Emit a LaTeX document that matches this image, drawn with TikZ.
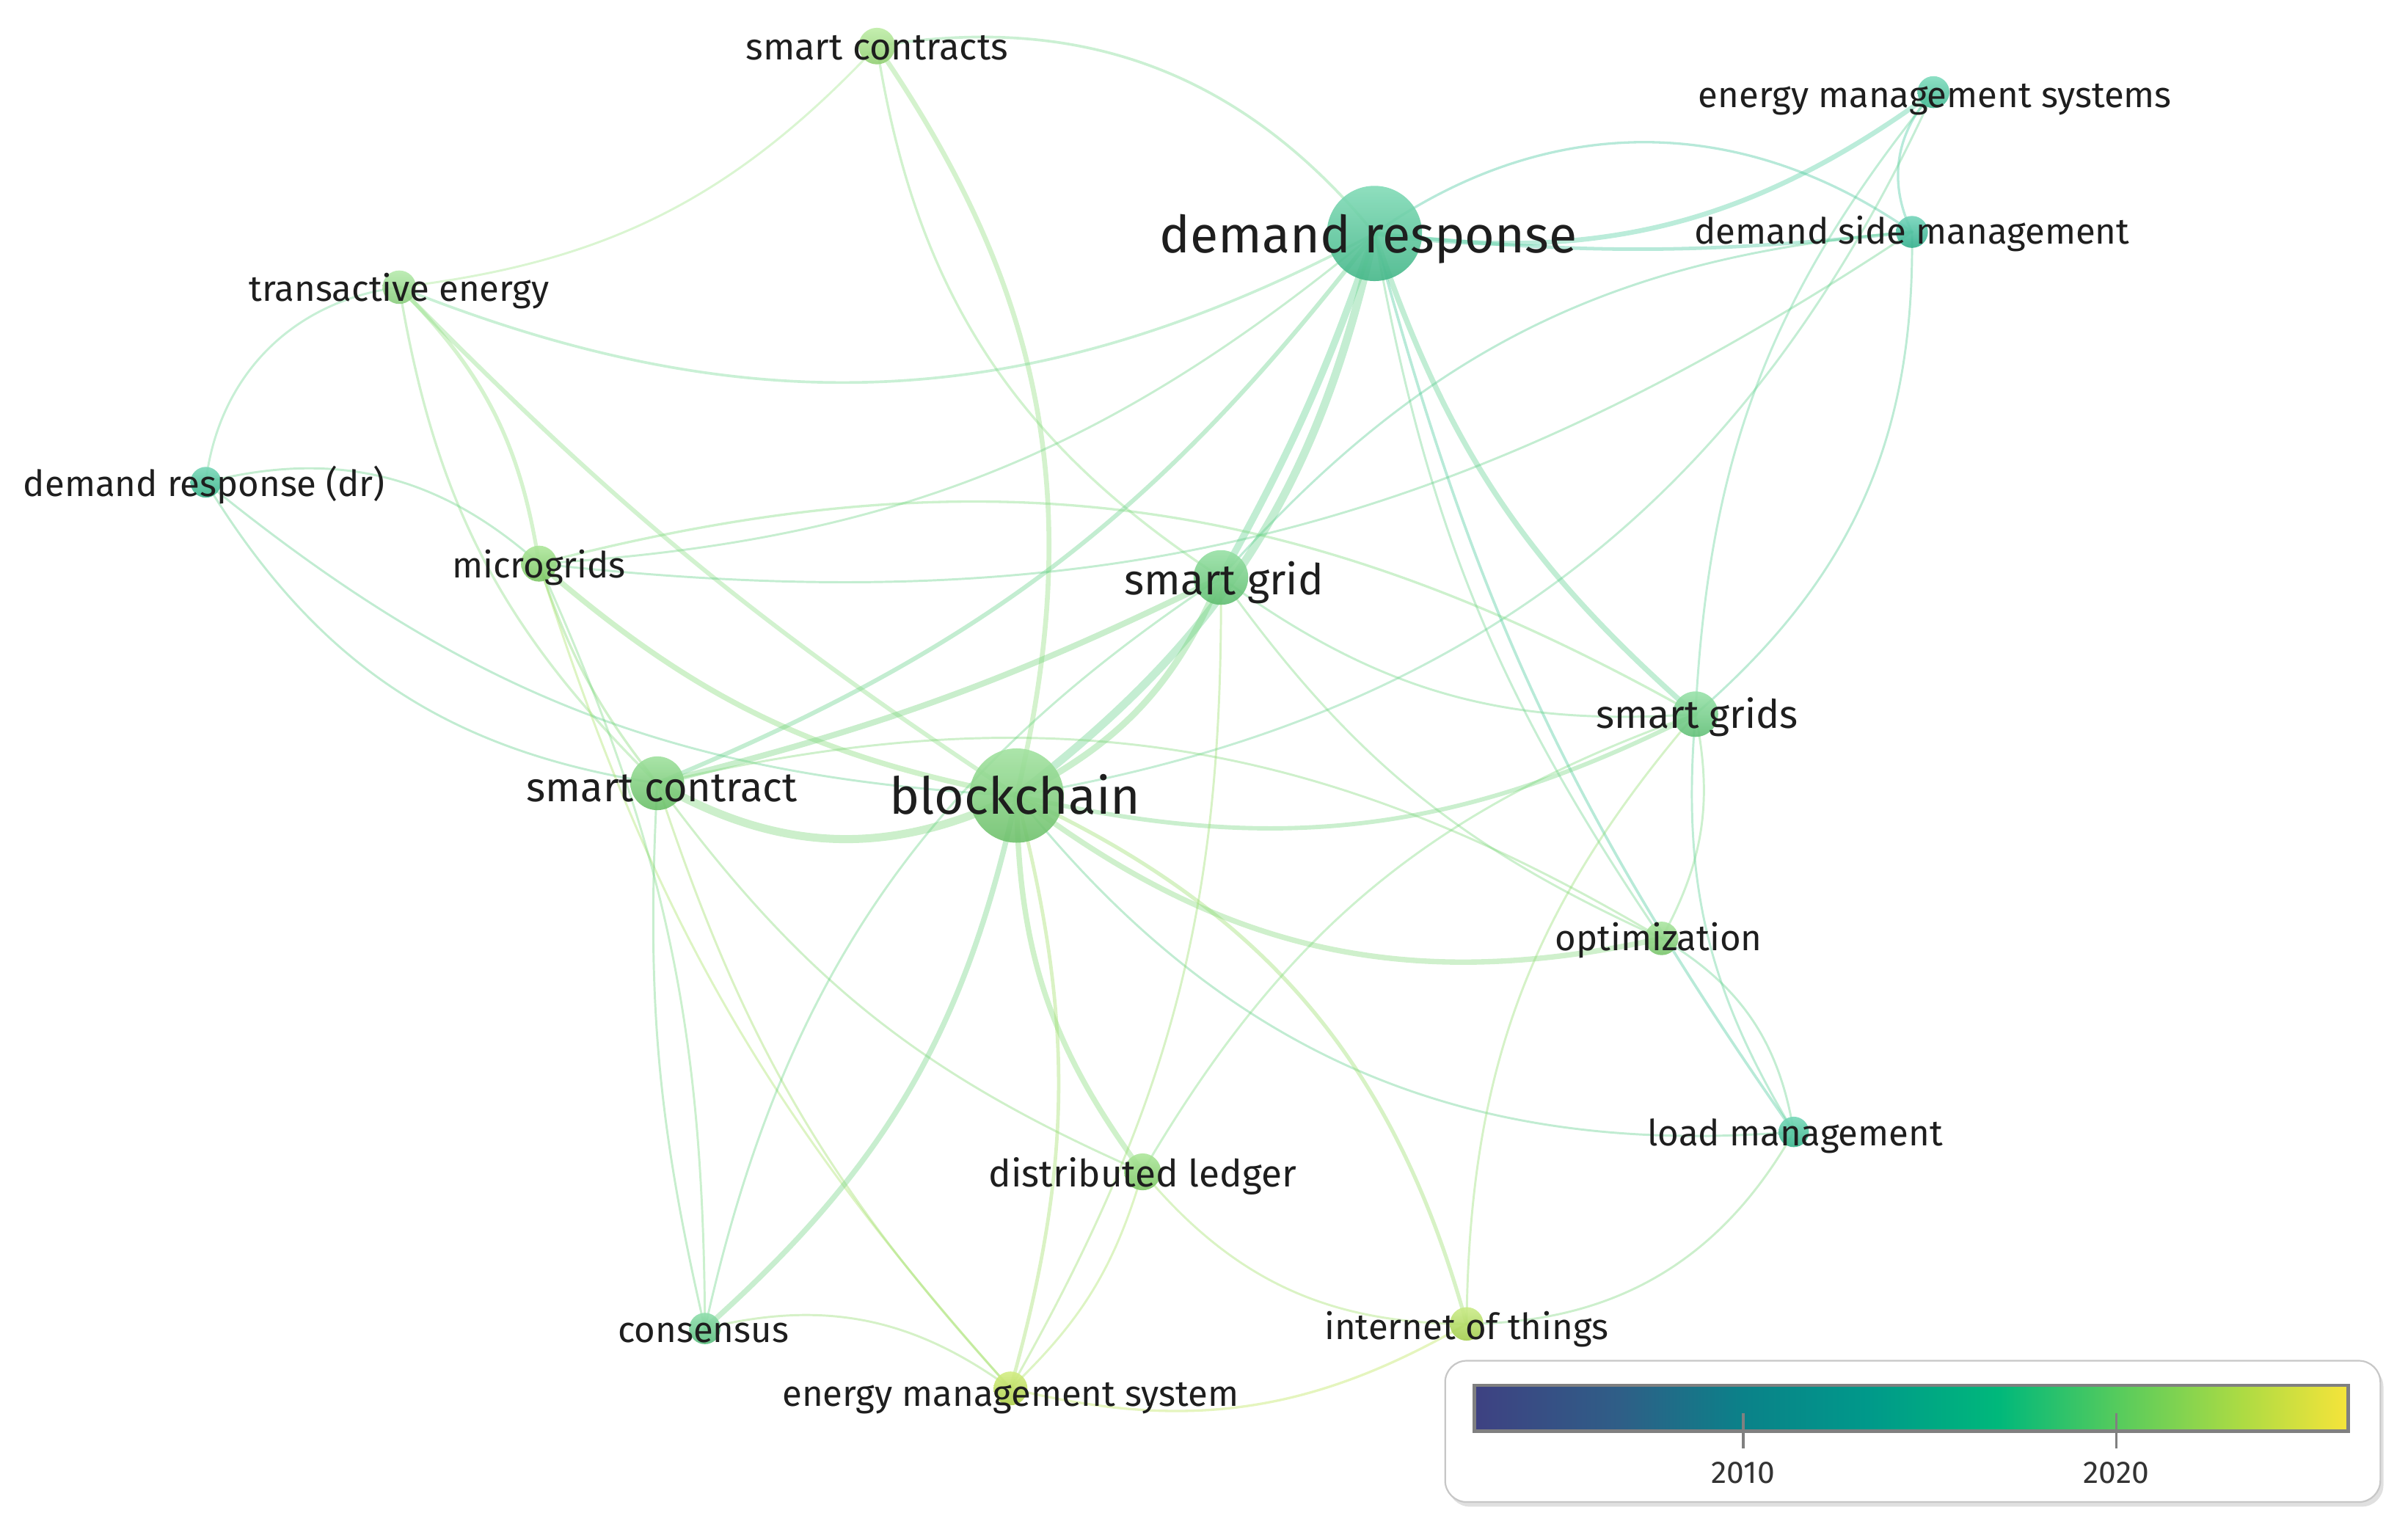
\documentclass[tikz,border=0pt]{standalone}
\usepackage{fontspec}
\setmainfont{Fira Sans}
\pgfdeclarelayer{bg}
\pgfsetlayers{bg,main}
\definecolor{scs}{HTML}{A2E580}
\definecolor{dr}{HTML}{4CCB98}
\definecolor{emss}{HTML}{4ACDA3}
\definecolor{dsm}{HTML}{38C29C}
\definecolor{te}{HTML}{98E28A}
\definecolor{drdr}{HTML}{3FC699}
\definecolor{mg}{HTML}{8ADC70}
\definecolor{sg}{HTML}{6BD37E}
\definecolor{sgs}{HTML}{6DD585}
\definecolor{sc}{HTML}{76D474}
\definecolor{bc}{HTML}{7BD678}
\definecolor{opt}{HTML}{86DA78}
\definecolor{lm}{HTML}{3CC79A}
\definecolor{dl}{HTML}{8ADC70}
\definecolor{con}{HTML}{62D18A}
\definecolor{iot}{HTML}{B4E356}
\definecolor{ems}{HTML}{C0E650}
\definecolor{txt}{HTML}{1E1E1E}
\definecolor{v0}{HTML}{3E4182}
\definecolor{v1}{HTML}{2F5E87}
\definecolor{v2}{HTML}{0A8289}
\definecolor{v3}{HTML}{00998A}
\definecolor{v4}{HTML}{00B87B}
\definecolor{v5}{HTML}{55CB5D}
\definecolor{v6}{HTML}{AEDB43}
\definecolor{v7}{HTML}{F6E43A}
\tikzset{
  kw/.style={circle, inner sep=0pt, draw=none, fill opacity=0.9},
  lnk/.style={opacity=0.38, line cap=round},
  lab/.style={anchor=base, inner sep=0pt, text=txt},
  small/.style={font=\fontsize{13.36}{16}\selectfont},
}
\newcommand\kwnode[5]{\node[kw, minimum size=#4*2*0.02cm, top color=#5!70!white, bottom color=#5!90!black] (#1) at (#2,#3) {};}
\newcommand\ed[4]{\begin{pgfonlayer}{bg}\draw[lnk, line width=#4pt, draw=#1!50!#2] (#1.center) to[bend left=#3] (#2.center);\end{pgfonlayer}}
\begin{document}
\begin{tikzpicture}[x=0.02cm, y=-0.02cm]
\useasboundingbox (0,0) rectangle (1568,999.4);
% nodes
\kwnode{scs}{571}{30}{11.9}{scs}
\kwnode{dr}{895}{152}{31}{dr}
\kwnode{emss}{1259}{60}{10.4}{emss}
\kwnode{dsm}{1245}{151}{10.4}{dsm}
\kwnode{te}{260}{187}{10.9}{te}
\kwnode{drdr}{134}{314}{10}{drdr}
\kwnode{mg}{351}{367}{11.7}{mg}
\kwnode{sg}{795}{376}{17.8}{sg}
\kwnode{sgs}{1104}{465}{14.8}{sgs}
\kwnode{sc}{428}{510}{17.5}{sc}
\kwnode{bc}{662}{518}{30.7}{bc}
\kwnode{opt}{1082}{611}{10.9}{opt}
\kwnode{lm}{1168}{737}{9.9}{lm}
\kwnode{dl}{744}{763}{12}{dl}
\kwnode{con}{459}{865}{10.2}{con}
\kwnode{iot}{955}{862}{10.9}{iot}
\kwnode{ems}{658}{904}{11}{ems}
% edges
\ed{scs}{dr}{30}{1.0}
\ed{scs}{te}{20}{0.8}
\ed{scs}{bc}{24}{1.8}
\ed{scs}{sg}{-24}{0.9}
\ed{dr}{dsm}{35}{0.9}
\ed{dr}{dsm}{-6}{1.3}
\ed{dr}{emss}{-22}{1.8}
\ed{emss}{dsm}{-35}{0.9}
\ed{emss}{sgs}{-18}{0.8}
\ed{emss}{bc}{28}{0.8}
\ed{dsm}{sgs}{25}{0.8}
\ed{dsm}{sg}{-22}{0.8}
\ed{dr}{sg}{5}{2.6}
\ed{dr}{bc}{20}{3.0}
\ed{dr}{sc}{15}{1.6}
\ed{dr}{sgs}{-15}{2.0}
\ed{dr}{opt}{-12}{0.8}
\ed{dr}{lm}{-10}{1.0}
\ed{dr}{mg}{18}{0.8}
\ed{te}{dr}{-25}{1.0}
\ed{te}{drdr}{-38}{0.8}
\ed{te}{mg}{18}{1.4}
\ed{te}{bc}{-6}{1.6}
\ed{te}{sc}{-18}{0.9}
\ed{drdr}{mg}{28}{0.8}
\ed{drdr}{sc}{-25}{0.8}
\ed{drdr}{bc}{-18}{0.8}
\ed{mg}{sgs}{22}{0.9}
\ed{mg}{dsm}{-20}{0.8}
\ed{mg}{bc}{-15}{2.0}
\ed{mg}{sc}{-10}{0.9}
\ed{mg}{ems}{-12}{0.8}
\ed{mg}{con}{12}{0.8}
\ed{sc}{con}{-8}{0.8}
\ed{sc}{bc}{-28}{3.0}
\ed{sc}{sg}{-6}{2.2}
\ed{sc}{dl}{-15}{0.8}
\ed{sc}{ems}{-12}{0.8}
\ed{sc}{opt}{22}{0.8}
\ed{bc}{dl}{-18}{2.0}
\ed{bc}{ems}{15}{1.3}
\ed{bc}{lm}{-28}{0.8}
\ed{bc}{iot}{25}{1.4}
\ed{bc}{opt}{-25}{2.0}
\ed{bc}{sgs}{-20}{1.6}
\ed{bc}{con}{18}{2.0}
\ed{con}{sg}{22}{0.8}
\ed{sg}{ems}{15}{0.8}
\ed{sg}{sgs}{-20}{0.8}
\ed{sg}{opt}{-15}{0.8}
\ed{sg}{bc}{20}{2.4}
\ed{sgs}{opt}{20}{0.8}
\ed{sgs}{lm}{-18}{0.8}
\ed{sgs}{dl}{-20}{0.8}
\ed{iot}{sgs}{20}{0.8}
\ed{opt}{lm}{25}{0.8}
\ed{iot}{lm}{-30}{0.8}
\ed{iot}{ems}{22}{0.9}
\ed{dl}{iot}{-25}{0.8}
\ed{dl}{ems}{15}{0.8}
\ed{con}{ems}{25}{0.8}
% labels
\node[lab, font=\fontsize{13.75}{16}\selectfont] (l-scs) at (571,39) {smart contracts};
\node[lab, font=\fontsize{19.0}{22}\selectfont] (l-dr) at (891,164.5) {demand response};
\node[lab, small] (l-emss) at (1260,70) {energy management systems};
\node[lab, small] (l-dsm) at (1245,159) {demand side management};
\node[lab, small] (l-te) at (260,196) {transactive energy};
\node[lab, small] (l-drdr) at (133,323) {demand response (dr)};
\node[lab, small] (l-mg) at (351,376) {microgrids};
\node[lab, font=\fontsize{15.8}{19}\selectfont] (l-sg) at (797,387) {smart grid};
\node[lab, font=\fontsize{14.6}{18}\selectfont] (l-sgs) at (1105,474) {smart grids};
\node[lab, font=\fontsize{15.2}{18}\selectfont] (l-sc) at (431,522) {smart contract};
\node[lab, font=\fontsize{18.9}{22}\selectfont] (l-bc) at (661,530) {blockchain};
\node[lab, small] (l-opt) at (1080,619) {optimization};
\node[lab, small] (l-lm) at (1169,746) {load management};
\node[lab, font=\fontsize{13.95}{17}\selectfont] (l-dl) at (744,773) {distributed ledger};
\node[lab, small] (l-con) at (458,874) {consensus};
\node[lab, small] (l-iot) at (955,872) {internet of things};
\node[lab, small] (l-ems) at (658,915.5) {energy management system};
% legend
\fill[black!12] (943,889) [rounded corners=8pt] rectangle (1552,981);
\draw[black!22, fill=white, line width=0.6pt, rounded corners=8pt] (941,886) rectangle (1550,978);
\shade[left color=v0, right color=v1] (960,902) rectangle (1054,932);
\shade[left color=v1, right color=v2] (1054,902) rectangle (1136,932);
\shade[left color=v2, right color=v3] (1136,902) rectangle (1216,932);
\shade[left color=v3, right color=v4] (1216,902) rectangle (1301,932);
\shade[left color=v4, right color=v5] (1301,902) rectangle (1378,932);
\shade[left color=v5, right color=v6] (1378,902) rectangle (1461,932);
\shade[left color=v6, right color=v7] (1461,902) rectangle (1529,932);
\draw[black!50, line width=1.3pt] (960,902) rectangle (1529,932);
\draw[black!50, line width=1pt] (1135,920) -- (1135,943);
\draw[black!50, line width=1pt] (1378,920) -- (1378,943);
\node[anchor=base, inner sep=0pt, text=black!80, font=\fontsize{11.6}{14}\selectfont] (y2010) at (1135,966) {2010};
\node[anchor=base, inner sep=0pt, text=black!80, font=\fontsize{11.6}{14}\selectfont] (y2020) at (1378,966) {2020};
\end{tikzpicture}
\end{document}
